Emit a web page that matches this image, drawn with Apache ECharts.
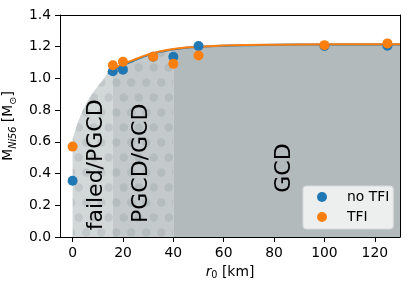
<!DOCTYPE html>
<html><head><meta charset="utf-8">
<script src="https://cdn.jsdelivr.net/npm/echarts@6/dist/echarts.min.js"></script>
<style>html,body{margin:0;padding:0;background:#fff}#c{width:415px;height:288px}</style>
</head><body><div id="c"></div>
<script>
// ---- data ----
const r0 = [0, 16, 20, 32, 40, 50, 100, 125];
const mNoTFI = [0.355, 1.045, 1.055, 1.137, 1.137, 1.204, 1.205, 1.206];
const mTFI = [0.57, 1.083, 1.105, 1.137, 1.092, 1.145, 1.21, 1.221];
const fitR = [14, 16, 20, 24, 28, 32, 36, 40, 45, 50, 60, 70, 80, 100, 130];
const fitTFI = [1.04, 1.06, 1.09, 1.115, 1.14, 1.16, 1.175, 1.185, 1.195, 1.2, 1.207, 1.211, 1.213, 1.215, 1.215];
const fitNoTFI = [1.03, 1.05, 1.083, 1.11, 1.136, 1.157, 1.172, 1.183, 1.193, 1.199, 1.206, 1.21, 1.212, 1.214, 1.214];
const edgeR = [0, 2, 4, 6, 8, 10, 12, 14, 16, 20, 24, 28, 32, 36, 40, 45, 50, 60, 70, 80, 100, 130];
const edgeM = [0.62, 0.72, 0.80, 0.86, 0.91, 0.95, 0.99, 1.035, 1.058, 1.088, 1.113, 1.138, 1.158, 1.174, 1.184, 1.194, 1.2, 1.207, 1.211, 1.213, 1.215, 1.215];
const regionNames = ['failed/PGCD', 'PGCD/GCD', 'GCD'];
const regionBounds = [[0, 16], [16, 40], [40, 130]];
const xTicks = [0, 20, 40, 60, 80, 100, 120];
const seriesNames = ['no TFI', 'TFI'];

// ---- styles ----
const FONT = 'DejaVu Sans';
const BLUE = '#1f77b4', ORANGE = '#ff7f0e';
function dots(bg, fg) {
  const W = 15, H = 30, r = 4.2;
  const c = document.createElement('canvas'); c.width = W; c.height = H;
  const g = c.getContext('2d'); g.fillStyle = bg; g.fillRect(0, 0, W, H);
  g.fillStyle = fg;
  const pts = [[3.75, 7.5], [11.25, 22.5]];
  for (const [x, y] of pts) for (const dx of [-W, 0, W]) for (const dy of [-H, 0, H]) {
    g.beginPath(); g.arc(x + dx, y + dy, r, 0, Math.PI * 2); g.fill();
  }
  return { image: c, repeat: 'repeat' };
}
const regionFills = [dots('#d2d7d8', '#c2c8c9'), dots('#c4cacb', '#b5bcbd'), '#b3babb'];

const edge = edgeR.map((x, i) => [x, edgeM[i]]);
const regionSeries = regionBounds.map((b, k) => ({
  type: 'line', name: 'region' + k, silent: true, symbol: 'none', smooth: false, z: 1,
  data: edge.filter(p => p[0] >= b[0] && p[0] <= b[1]),
  lineStyle: { width: 0 }, areaStyle: { color: regionFills[k], opacity: 1, origin: 'start' }
}));

const option = {
  animation: false,
  grid: { left: 60, right: 15, top: 15, bottom: 51, containLabel: false, outerBoundsMode: 'none' },
  legend: {
    data: seriesNames.map(n => ({ name: n, icon: 'circle' })),
    orient: 'vertical', left: 303, top: 186,
    itemWidth: 10, itemHeight: 14, itemGap: 6,
    padding: [4, 4, 5, 14],
    backgroundColor: 'rgba(240,241,241,0.95)', borderColor: '#d6d9d9', borderWidth: 1, borderRadius: 3,
    textStyle: { fontFamily: FONT, fontSize: 13.9, color: '#000', padding: [0, 0, 0, 15] }
  },
  xAxis: [{
    type: 'value', min: -5, max: 130, z: 10,
    name: '{i|r}{s|0}{a| [km]}', nameLocation: 'middle', nameGap: 24,
    nameTextStyle: { rich: {
      i: { fontFamily: FONT, fontSize: 13.9, fontStyle: 'italic', color: '#000', lineHeight: 18 },
      s: { fontFamily: FONT, fontSize: 9.7, color: '#000', lineHeight: 10, verticalAlign: 'bottom' },
      a: { fontFamily: FONT, fontSize: 13.9, color: '#000', lineHeight: 18 } } },
    splitLine: { show: false },
    axisLine: { onZero: false, lineStyle: { color: '#000', width: 1 } },
    axisTick: { customValues: xTicks, length: 5, lineStyle: { color: '#000' } },
    axisLabel: { customValues: xTicks, color: '#000', fontFamily: FONT, fontSize: 13.9, margin: 9 }
  }, {
    type: 'value', min: -5, max: 130, position: 'top', z: 10,
    axisLine: { show: true, onZero: false, lineStyle: { color: '#000', width: 1 } },
    axisTick: { show: false }, axisLabel: { show: false }, splitLine: { show: false }
  }],
  yAxis: [{
    type: 'value', min: 0, max: 1.4, interval: 0.2, z: 10,
    name: '{a|M}{s|Ni56}{a| [M}{t|⊙}{a|]}', nameLocation: 'middle', nameGap: 36, nameRotate: 90,
    nameTextStyle: { rich: {
      a: { fontFamily: FONT, fontSize: 13.9, color: '#000', lineHeight: 20 },
      s: { fontFamily: FONT, fontSize: 9.7, fontStyle: 'italic', color: '#000', lineHeight: 10, verticalAlign: 'bottom' },
      t: { fontFamily: FONT, fontSize: 9.7, color: '#000', lineHeight: 10, verticalAlign: 'bottom' } } },
    splitLine: { show: false },
    axisLine: { show: true, onZero: false, lineStyle: { color: '#000', width: 1 } },
    axisTick: { show: true, length: 5, lineStyle: { color: '#000' } },
    axisLabel: { color: '#000', fontFamily: FONT, fontSize: 13.9, margin: 9, formatter: v => v.toFixed(1) }
  }, {
    type: 'value', min: 0, max: 1.4, position: 'right', z: 10,
    axisLine: { show: true, onZero: false, lineStyle: { color: '#000', width: 1 } },
    axisTick: { show: false }, axisLabel: { show: false }, splitLine: { show: false }
  }],
  series: [
    ...regionSeries,
    { type: 'line', name: 'fit no TFI', symbol: 'none', smooth: true, z: 3, silent: true,
      data: fitR.map((x, i) => [x, fitNoTFI[i]]), lineStyle: { color: BLUE, width: 2 } },
    { type: 'line', name: 'fit TFI', symbol: 'none', smooth: true, z: 3, silent: true,
      data: fitR.map((x, i) => [x, fitTFI[i]]), lineStyle: { color: ORANGE, width: 2 } },
    { type: 'scatter', name: seriesNames[0], symbolSize: 10, z: 4,
      itemStyle: { color: BLUE, opacity: 1 }, data: r0.map((x, i) => [x, mNoTFI[i]]) },
    { type: 'scatter', name: seriesNames[1], symbolSize: 10, z: 5,
      itemStyle: { color: ORANGE, opacity: 1 }, data: r0.map((x, i) => [x, mTFI[i]]) }
  ]
};
const chart = echarts.init(document.getElementById('c'), null, { renderer: 'canvas' });
chart.setOption(option);
// region labels (data-coordinate anchors)
const labelAt = [[9.6, 0.455], [27.4, 0.465], [83.9, 0.435]];
chart.setOption({
  graphic: regionNames.map((t, k) => {
    const p = chart.convertToPixel({ gridIndex: 0 }, labelAt[k]);
    return { type: 'text', x: p[0], y: p[1], rotation: Math.PI / 2, z: 50,
      style: { text: t, font: '22px "DejaVu Sans"', fill: '#000', align: 'center', verticalAlign: 'middle' } };
  })
});
</script></body></html>
